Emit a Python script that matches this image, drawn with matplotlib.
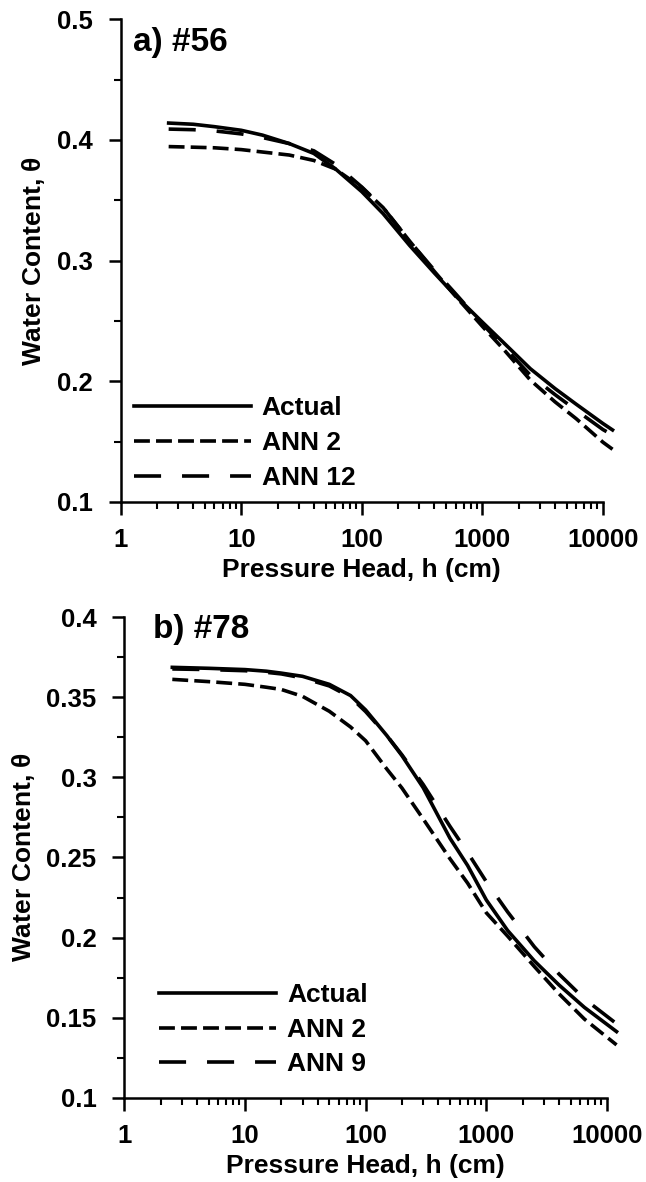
import matplotlib
matplotlib.use('Agg')
import matplotlib.pyplot as plt
from matplotlib.ticker import FixedLocator, NullFormatter

plt.rcParams['font.family'] = ['Liberation Sans', 'DejaVu Sans']
plt.rcParams['font.weight'] = 'bold'

# panel a) #56
h_a = [2.5, 4, 6, 10, 15, 25, 40, 60, 100, 150, 250, 400, 600, 1000, 1500, 2500, 4000, 6000, 10000, 12000]
actual_a = [0.414, 0.413, 0.411, 0.408, 0.404, 0.397, 0.3888, 0.3763, 0.3571, 0.339, 0.3124, 0.2897, 0.2708, 0.249, 0.232, 0.2104, 0.194, 0.181, 0.165, 0.1597]
ann2_a = [0.3945, 0.394, 0.3935, 0.392, 0.390, 0.3875, 0.383, 0.376, 0.3605, 0.344, 0.316, 0.291, 0.2705, 0.2455, 0.2265, 0.201, 0.183, 0.169, 0.1495, 0.1437]
ann12_a = [0.409, 0.4085, 0.4075, 0.405, 0.402, 0.397, 0.391, 0.380, 0.361, 0.344, 0.316, 0.292, 0.2725, 0.2475, 0.229, 0.205, 0.189, 0.176, 0.160, 0.1555]

# panel b) #78
h_b = [2.5, 5, 10, 15, 20, 30, 50, 75, 100, 150, 200, 300, 500, 700, 1000, 1500, 2500, 4000, 6500, 12000]
actual_b = [0.3686, 0.368, 0.3672, 0.3662, 0.365, 0.363, 0.358, 0.351, 0.342, 0.326, 0.3135, 0.2935, 0.262, 0.245, 0.2235, 0.2045, 0.1855, 0.1705, 0.1565, 0.1414]
ann2_b = [0.3611, 0.3597, 0.358, 0.3562, 0.3548, 0.3505, 0.3412, 0.3314, 0.3228, 0.3051, 0.2933, 0.274, 0.2492, 0.234, 0.2155, 0.201, 0.182, 0.165, 0.1492, 0.1331]
ann9_b = [0.3676, 0.3672, 0.3665, 0.3655, 0.3645, 0.362, 0.357, 0.350, 0.341, 0.326, 0.314, 0.2955, 0.2694, 0.2531, 0.2349, 0.2161, 0.1943, 0.1773, 0.1618, 0.1463]

xticks = [1, 10, 100, 1000, 10000]
xticklabels = ['1', '10', '100', '1000', '10000']

lw = 2.6
short_dash = (0, (4.4, 1.7))
long_dash = (0, (7.5, 5.8))
fs_tick = 18.5
fs_label = 19
fs_legend = 19


def style_axes(ax, ylim, ymajor, yminor, yfmt):
    ax.set_xscale('log')
    ax.set_xlim(1, 10000)
    ax.set_ylim(*ylim)
    for s in ['top', 'right']:
        ax.spines[s].set_visible(False)
    for s in ['left', 'bottom']:
        ax.spines[s].set_linewidth(1.8)
    ax.xaxis.set_major_locator(FixedLocator(xticks))
    ax.set_xticklabels(xticklabels)
    minors = [m * 10 ** d for d in range(4) for m in range(2, 10)]
    ax.xaxis.set_minor_locator(FixedLocator(minors))
    ax.xaxis.set_minor_formatter(NullFormatter())
    ax.yaxis.set_major_locator(FixedLocator(ymajor))
    ax.set_yticklabels([yfmt(v) for v in ymajor])
    ax.yaxis.set_minor_locator(FixedLocator(yminor))
    ax.tick_params(which='major', length=9, width=1.8, labelsize=fs_tick, pad=10)
    ax.tick_params(which='minor', length=5, width=1.5)
    ax.tick_params(axis='y', which='major', pad=11)
    ax.set_xlabel('Pressure Head, h (cm)', fontsize=fs_label, fontweight='bold', labelpad=4)
    ax.set_ylabel('Water Content, $\\mathregular{\\theta}$', fontsize=fs_label,
                  fontweight='bold', labelpad=7)


fig = plt.figure(figsize=(6.46, 11.82), dpi=100)

ax1 = fig.add_axes([0.1868, 0.5753, 0.7466, 0.4084])
ax1.plot(h_a, actual_a, color='black', lw=lw, label='Actual', clip_on=False)
ax1.plot(h_a, ann2_a, color='black', lw=lw, ls=short_dash, label='ANN 2', clip_on=False)
ax1.plot(h_a, ann12_a, color='black', lw=lw, ls=long_dash, label='ANN 12', clip_on=False)
style_axes(ax1, (0.1, 0.5), [0.1, 0.2, 0.3, 0.4, 0.5], [0.15, 0.25, 0.35, 0.45],
           lambda v: '%.1f' % v)
ax1.text(0.025, 0.951, 'a) #56', transform=ax1.transAxes, fontsize=24, fontweight='bold',
         va='center', ha='left')
ax1.legend(loc='lower left', bbox_to_anchor=(0.027, 0.025), frameon=False, fontsize=fs_legend,
           handlelength=4.45, handletextpad=0.4, labelspacing=0.42, borderpad=0, borderaxespad=0)

ax2 = fig.add_axes([0.1924, 0.0711, 0.7472, 0.4069])
ax2.plot(h_b, actual_b, color='black', lw=lw, label='Actual', clip_on=False)
ax2.plot(h_b, ann2_b, color='black', lw=lw, ls=short_dash, label='ANN 2', clip_on=False)
ax2.plot(h_b, ann9_b, color='black', lw=lw, ls=long_dash, label='ANN 9', clip_on=False)
style_axes(ax2, (0.1, 0.4), [0.1, 0.15, 0.2, 0.25, 0.3, 0.35, 0.4],
           [0.125, 0.175, 0.225, 0.275, 0.325, 0.375],
           lambda v: ('%.2f' % v).rstrip('0'))
ax2.text(0.06, 0.973, 'b) #78', transform=ax2.transAxes, fontsize=24, fontweight='bold',
         va='center', ha='left')
ax2.legend(loc='lower left', bbox_to_anchor=(0.072, 0.045), frameon=False, fontsize=fs_legend,
           handlelength=4.45, handletextpad=0.4, labelspacing=0.4, borderpad=0, borderaxespad=0)

plt.savefig('out.png', dpi=100)
